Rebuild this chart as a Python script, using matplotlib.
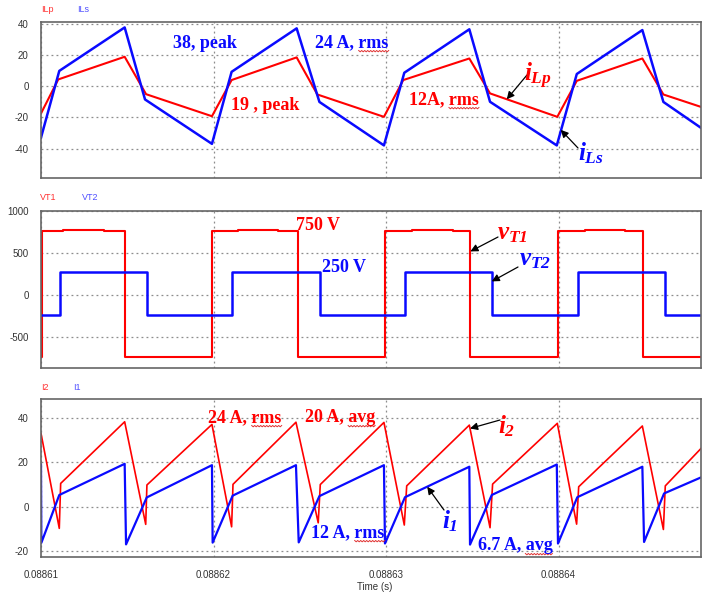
import numpy as np
import matplotlib
matplotlib.use('Agg')
import matplotlib.pyplot as plt
from matplotlib.ticker import FixedLocator, NullFormatter
from matplotlib.lines import Line2D

plt.rcParams['font.family'] = ['Liberation Sans', 'DejaVu Sans']
plt.rcParams['axes.unicode_minus'] = False
plt.rcParams['mathtext.fontset'] = 'custom'
plt.rcParams['mathtext.it'] = 'Liberation Serif:italic:bold'
plt.rcParams['mathtext.rm'] = 'Liberation Serif:italic:bold'

# ---------------- data (time in microseconds after t0) ----------------
T0 = 0.08861
T_END_US = 38.26

# top panel: transformer currents
ilp_t = [0, 1.0, 4.85, 6.09, 9.91, 11.05, 14.82, 16.02, 19.88, 21.0, 24.83, 26.03, 29.93, 31.06, 34.86, 36.08, 38.26]
ilp_v = [-17.4, 4.5, 19.1, -5.0, -19.2, 4.1, 18.7, -5.2, -19.6, 4.1, 18.0, -4.5, -19.6, 3.6, 18.0, -5.2, -13.2]
ils_t = [0, 1.06, 4.85, 6.03, 9.91, 11.05, 14.82, 16.14, 19.88, 21.06, 24.83, 26.03, 29.9, 31.06, 34.86, 36.08, 38.26]
ils_v = [-33.0, 10.0, 38.0, -8.4, -37.0, 9.4, 37.4, -10.0, -38.0, 8.8, 36.8, -9.9, -38.0, 8.0, 36.3, -10.0, -26.7]

# middle panel: transformer voltages (step changes)
vt1_t = [0, 0.03, 1.29, 3.67, 4.89, 9.91, 11.4, 13.76, 14.88, 19.96, 21.49, 23.9, 24.89, 29.97, 31.54, 33.86, 34.92, 38.26]
vt1_v = [-741, 757, 769, 757, -741, 757, 769, 757, -741, 757, 769, 757, -741, 757, 769, 757, -741, -741]
vt2_t = [0, 1.10, 6.13, 11.09, 16.16, 21.1, 26.13, 31.15, 36.16, 38.26]
vt2_v = [-243, 270, -243, 270, -243, 270, -243, 270, -243, -243]

# bottom panel: output currents
i2_t = [0, 1.06, 1.14, 4.85, 6.07, 6.14, 9.91, 11.05, 11.13, 14.78, 16.07, 16.19, 19.88, 21.06, 21.2,
        24.83, 26.03, 26.18, 29.93, 31.05, 31.17, 34.86, 36.08, 36.19, 38.26]
i2_v = [33.0, -9.7, 10.5, 38.2, -7.9, 9.8, 37.0, -9.0, 10.1, 38.0, -7.2, 10.0, 37.9, -8.2, 9.4,
        36.7, -9.4, 10.2, 37.5, -7.8, 9.0, 36.3, -10.2, 9.4, 26.2]
i1_t = [0, 0.02, 1.06, 4.85, 4.93, 6.13, 9.91, 9.95, 11.11, 14.78, 14.94, 16.14, 19.88, 19.94, 21.1,
        24.83, 24.87, 26.13, 29.9, 29.97, 31.09, 34.86, 34.96, 36.12, 38.26]
i1_v = [19.0, -16.2, 5.3, 19.3, -16.9, 4.2, 18.7, -16.1, 5.0, 18.7, -16.0, 4.8, 18.7, -16.5, 4.3,
        18.0, -17.0, 5.3, 19.0, -16.5, 4.3, 18.0, -15.8, 6.0, 13.2]

x_ticks = [0.08861, 0.08862, 0.08863, 0.08864]
x_tick_labels = ['0.08861', '0.08862', '0.08863', '0.08864']
top_yticks = [40, 20, 0, -20, -40]
mid_yticks = [1000, 500, 0, -500]
bot_yticks = [40, 20, 0, -20]

RED = '#ff0000'
BLUE = '#0a0aff'


def sec(t_us):
    return T0 + np.asarray(t_us) * 1e-6


W, H = 710, 592
fig = plt.figure(figsize=(W / 100, H / 100), dpi=100)


def fx(px):
    return px / W


def fy(py):
    return 1 - py / H


def make_ax(top_px, bot_px, ylim, yticks):
    ax = fig.add_axes([fx(41), fy(bot_px), fx(701) - fx(41), fy(top_px) - fy(bot_px)])
    ax.set_xlim(sec(0), sec(T_END_US))
    ax.set_ylim(*ylim)
    ax.yaxis.set_major_locator(FixedLocator(yticks))
    ax.xaxis.set_major_locator(FixedLocator(x_ticks))
    ax.grid(True, color='#8c8c8c', linestyle=(0, (1.5, 2.5)), linewidth=0.9)
    ax.tick_params(length=0, labelsize=7, colors='#333333', pad=9)
    for s in ax.spines.values():
        s.set_color('#666666')
        s.set_linewidth(1.2)
    ax.xaxis.set_major_formatter(NullFormatter())
    return ax


ax1 = make_ax(22, 178, (-59, 41.5), top_yticks)
ax2 = make_ax(211, 367.7, (-865, 1000), mid_yticks)
ax3 = make_ax(399.3, 557.3, (-22.7, 48.3), bot_yticks)

ax1.plot(sec(ilp_t), ilp_v, color=RED, lw=1.5)
ax1.plot(sec(ils_t), ils_v, color=BLUE, lw=1.8)

ax2.step(sec(vt1_t), vt1_v, where='post', color=RED, lw=1.5)
ax2.step(sec(vt2_t), vt2_v, where='post', color=BLUE, lw=1.8)

ax3.plot(sec(i2_t), i2_v, color=RED, lw=1.2)
ax3.plot(sec(i1_t), i1_v, color=BLUE, lw=1.6)

ax3.set_xticklabels(x_tick_labels)
ax3.tick_params(axis='x', pad=9)
fig.text(fx(375), fy(587), 'Time (s)', fontsize=7, color='#333333', ha='center', va='center')

# channel names
for (x, y, s, c) in [(41, 9, 'ILp', '#ff3030'), (77, 9, 'ILs', '#5050ff'),
                     (40, 198, 'VT1', '#ff3030'), (82, 198, 'VT2', '#5050ff'),
                     (41, 387, 'I2', '#ff3030'), (73, 387, 'I1', '#5050ff')]:
    fig.text(fx(x), fy(y), s, fontsize=6.5, color=c, ha='left', va='center')

# bold serif annotations (word that carries a wavy spell-check underline)
SERIF = ['Liberation Serif', 'DejaVu Serif']
notes = [(205, 43, '38, peak', BLUE, None), (352, 43, '24 A, rms', BLUE, 'rms'),
         (265, 105, '19 , peak', RED, None), (444, 100, '12A, rms', RED, 'rms'),
         (318, 226, '750 V', RED, None), (344, 268, '250 V', BLUE, None),
         (245, 418, '24 A, rms', RED, 'rms'), (340, 418, '20 A, avg', RED, 'avg'),
         (348, 533, '12 A, rms', BLUE, 'rms'), (515, 546, '6.7 A, avg', BLUE, 'avg')]
fig.canvas.draw()
renderer = fig.canvas.get_renderer()
for (x, y, s, c, word) in notes:
    kw = dict(fontsize=13, fontweight='bold', family=SERIF)
    t = fig.text(fx(x), fy(y), s, color=c, ha='center', va='center', **kw)
    if word:
        bb = t.get_window_extent(renderer)
        prefix = s[:s.index(word)]
        tmp = fig.text(0, 0, prefix + word, **kw)
        w_all = tmp.get_window_extent(renderer).width
        tmp.set_text(word)
        w_word = tmp.get_window_extent(renderer).width
        tmp.remove()
        x1 = bb.x0 + (w_all - w_word)
        x2 = bb.x0 + w_all
        xs = np.arange(x1, x2 + 0.1, 1.5)
        ys = bb.y0 + 1.0 + np.where(np.arange(len(xs)) % 2 == 0, 0.0, -1.3)
        fig.add_artist(Line2D(xs, ys, transform=None, color='#e03030', lw=0.7))

for (x, y, s, c) in [(538, 76, r'$i_{Lp}$', RED), (591, 153, r'$i_{Ls}$', BLUE),
                     (512, 233, r'$v_{T1}$', RED), (535, 259, r'$v_{T2}$', BLUE),
                     (507, 426, r'$i_{2}$', RED), (450, 521, r'$i_{1}$', BLUE)]:
    fig.text(fx(x), fy(y), s, fontsize=18, color=c, ha='center', va='center')

arrow = dict(arrowstyle='-|>', color='black', lw=0.9, mutation_scale=11, shrinkA=0, shrinkB=0)
for ax, tip_t, tip_v, tail in [(ax1, 27.0, -8.3, (527, 75)), (ax1, 30.13, -28.0, (578, 148)),
                               (ax2, 24.89, 519, (498, 237)), (ax2, 26.13, 162, (518, 267)),
                               (ax3, 24.87, 35.2, (500, 420)), (ax3, 22.39, 9.0, (444, 510))]:
    ax.annotate('', xy=(sec(tip_t), tip_v), xycoords='data',
                xytext=(fx(tail[0]), fy(tail[1])), textcoords='figure fraction',
                arrowprops=arrow)

fig.savefig('out.png', dpi=100)
